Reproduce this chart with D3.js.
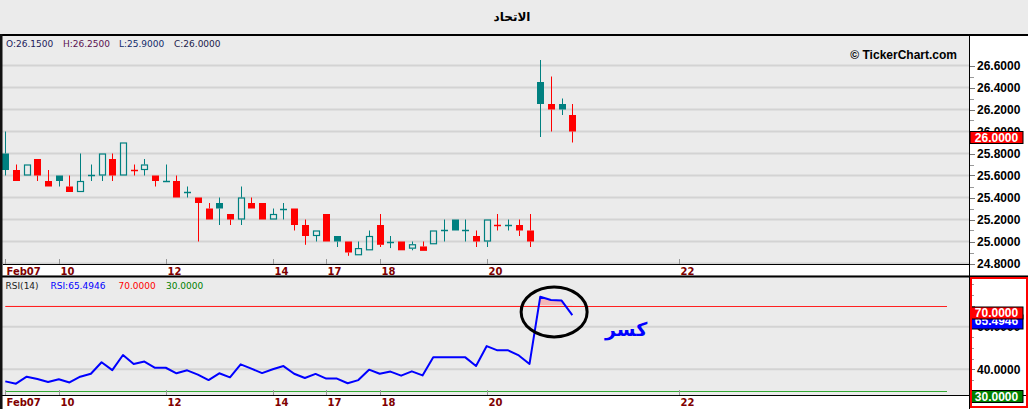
<!DOCTYPE html>
<html><head><meta charset="utf-8">
<script src="https://cdn.jsdelivr.net/npm/d3@7"></script>
<style>body{margin:0;background:#ebebeb;overflow:hidden}svg{display:block}</style>
</head><body><svg id="c" width="1028" height="409"></svg>
<script>
// ---------------- data ----------------
const title = "الاتحاد";
const opens  = [25.80,25.65,25.60,25.75,25.55,25.60,25.50,25.45,25.60,25.60,25.75,25.60,25.65,25.65,25.60,25.55,25.55,25.45,25.40,25.30,25.35,25.25,25.20,25.35,25.35,25.20,25.30,25.30,25.15,25.05,25.25,25.05,25.00,24.875,24.92,25.15,25.00,25.00,24.935,24.955,24.975,25.10,25.20,25.10,25.05,25.00,25.15,25.15,25.15,25.10,26.45,26.25,26.25,26.15];
const highs  = [26.00,25.70,25.70,25.75,25.65,25.60,25.60,25.80,25.70,25.80,25.80,25.90,25.70,25.75,25.60,25.70,25.60,25.50,25.40,25.35,25.40,25.25,25.50,25.40,25.35,25.30,25.35,25.30,25.20,25.10,25.25,25.05,25.00,25.00,25.10,25.25,25.05,25.00,25.00,25.00,25.10,25.20,25.20,25.20,25.10,25.20,25.25,25.20,25.20,25.25,26.65,26.50,26.30,26.25];
const lows   = [25.60,25.55,25.60,25.55,25.50,25.50,25.45,25.45,25.55,25.55,25.55,25.60,25.60,25.60,25.50,25.55,25.40,25.40,25.00,25.20,25.15,25.15,25.15,25.30,25.20,25.20,25.20,25.10,24.97,25.00,25.00,24.95,24.87,24.875,24.92,24.95,24.94,24.92,24.92,24.915,24.975,25.00,25.10,25.00,24.95,24.95,25.10,25.10,25.05,24.95,25.95,26.00,26.15,25.90];
const closes = [25.65,25.55,25.70,25.60,25.50,25.55,25.45,25.55,25.60,25.80,25.60,25.90,25.65,25.70,25.55,25.55,25.40,25.45,25.35,25.20,25.30,25.20,25.40,25.30,25.20,25.25,25.30,25.15,25.05,25.10,25.00,25.00,24.90,24.94,25.05,24.97,25.00,24.92,24.975,24.915,25.10,25.10,25.10,25.10,25.00,25.20,25.15,25.15,25.10,25.00,26.25,26.20,26.20,26.00];
const priorClose = 25.60;
const rsiValues = [34.3,33.2,36.5,35.4,34.0,35.3,33.8,36.5,37.9,43.3,39.6,46.7,42.5,43.6,40.7,40.7,38.1,39.5,37.5,34.9,38.1,36.2,42.3,40.3,38.2,40.0,41.5,37.9,35.9,37.8,35.6,35.6,33.4,34.9,39.8,37.9,38.9,37.0,39.0,37.1,45.6,45.6,45.6,45.6,41.5,50.9,48.9,48.9,46.5,42.5,74.1,72.6,72.3,65.4946];
const dateLabels = ["Feb07","10","12","14","17","18","20","22"];
const dateIndex  = [0,5,15,25,30,35,45,63];
const priceTicks = [24.8,25.0,25.2,25.4,25.6,25.8,26.0,26.2,26.4,26.6];
const priceMinor = [24.9,25.1,25.3,25.5,25.7,25.9,26.1,26.3,26.5];
const rsiTicks = [40,60];
const rsiMinor = [35,45,50,55,65,75,80];
const rsiOver = 70, rsiUnder = 30;
const rsiPeriod = 14;
const watermark = "© TickerChart.com";
const noteText = "كسر";

// ---------------- layout ----------------
const W = 1028, H = 409;
const plotL = 3, plotR = 969;
const mainT = 36, mainB = 264;
const rsiT = 277, rsiB = 395;
const TEAL = "#008080", RED = "#ff0000";
const svg = d3.select("#c");

const x = d3.scaleLinear().domain([0, 63]).range([5.3, 679.3]);
const y = d3.scaleLinear().domain([24.8, 26.6]).range([263.5, 65.5]);
const yR = d3.scaleLinear().domain([30, 70]).range([390.5, 305.5]);

svg.append("rect").attr("width", W).attr("height", H).attr("fill", "#ebebeb");

// title
svg.append("text").attr("x", 512).attr("y", 21).attr("text-anchor", "middle")
  .attr("font-family", "DejaVu Sans").attr("font-weight", "bold").attr("font-size", 12)
  .attr("fill", "#000").text(title);

function dateStrip(top, bottom) {
  svg.append("rect").attr("x", plotL).attr("y", top).attr("width", W - plotL).attr("height", bottom - top).attr("fill", "#fff");
  svg.selectAll(null).data(dateLabels).join("text")
    .attr("x", (d, k) => Math.round(x(dateIndex[k])) + 1.5).attr("y", top + 11)
    .attr("font-family", "DejaVu Sans").attr("font-weight", "bold").attr("font-size", 10).attr("fill", "#800000")
    .text(d => d);
}
function valueBox(yTop, fill, txt, h) {
  h = h || 12;
  svg.append("rect").attr("x", plotR + 1).attr("y", yTop).attr("width", 53).attr("height", h)
    .attr("fill", fill).attr("stroke", "#000").attr("stroke-width", 1);
  svg.append("text").attr("x", 996.5).attr("y", yTop + 10.3).attr("text-anchor", "middle")
    .attr("font-family", "Liberation Sans").attr("font-weight", "bold").attr("font-size", 12).attr("fill", "#fff").text(txt);
}

// ---------- main panel ----------
svg.append("rect").attr("x", plotR + 1).attr("y", mainT).attr("width", W - plotR - 1).attr("height", mainB - mainT).attr("fill", "#fff");
const gMain = svg.append("g");
gMain.selectAll("line.grid").data(priceTicks).join("line")
  .attr("x1", 0).attr("x2", plotR).attr("y1", d => y(d)).attr("y2", d => y(d))
  .attr("stroke", "#d3d3d3").attr("stroke-width", 2);
gMain.selectAll("line.dt").data(dateIndex).join("line")
  .attr("x1", d => Math.round(x(d)) + 0.5).attr("x2", d => Math.round(x(d)) + 0.5)
  .attr("y1", mainB - 5).attr("y2", mainB).attr("stroke", "#999");

const candles = opens.map((o, i) => ({
  i, o, h: highs[i], l: lows[i], c: closes[i],
  prev: i === 0 ? priorClose : closes[i - 1]
}));
const bw = 7;
const gC = gMain.append("g");
candles.forEach(d => {
  const col = d.c >= d.prev ? TEAL : RED;
  const xc = Math.round(x(d.i)) + 0.5;
  const g = gC.append("g");
  const top = y(Math.max(d.o, d.c)), bot = y(Math.min(d.o, d.c));
  if (d.o === d.c) {
    g.append("line").attr("x1", xc).attr("x2", xc).attr("y1", y(d.h)).attr("y2", y(d.l)).attr("stroke", col);
    g.append("line").attr("x1", xc - bw / 2).attr("x2", xc + bw / 2).attr("y1", Math.round(top) + 0.5).attr("y2", Math.round(top) + 0.5).attr("stroke", col).attr("stroke-width", 1.5);
  } else {
    g.append("line").attr("x1", xc).attr("x2", xc).attr("y1", y(d.h)).attr("y2", top).attr("stroke", col);
    g.append("line").attr("x1", xc).attr("x2", xc).attr("y1", bot).attr("y2", y(d.l)).attr("stroke", col);
    if (d.c < d.o) {
      g.append("rect").attr("x", xc - bw / 2).attr("y", top).attr("width", bw).attr("height", bot - top).attr("fill", col);
    } else {
      g.append("rect").attr("x", xc - bw / 2 + 0.5).attr("y", top + 0.5).attr("width", bw - 1).attr("height", Math.max(0, bot - top - 1))
        .attr("fill", "none").attr("stroke", col).attr("stroke-width", 1.2);
    }
  }
});

// watermark & OHLC legend
svg.append("text").attr("x", 957).attr("y", 59).attr("text-anchor", "end")
  .attr("font-family", "Liberation Sans").attr("font-weight", "bold").attr("font-size", 12).attr("fill", "#000").text(watermark);
const last = candles[candles.length - 1];
const legend = [
  {t: "O:" + last.o.toFixed(4), x: 6, c: "#20205a"},
  {t: "H:" + last.h.toFixed(4), x: 63, c: "#5a1050"},
  {t: "L:" + last.l.toFixed(4), x: 119, c: "#102a6a"},
  {t: "C:" + last.c.toFixed(4), x: 174, c: "#20204a"}
];
svg.selectAll("text.lg").data(legend).join("text")
  .attr("x", d => d.x).attr("y", 47).attr("font-family", "DejaVu Sans").attr("font-size", 9)
  .attr("fill", d => d.c).text(d => d.t);

// date strip 1
dateStrip(mainB, 275);
svg.append("line").attr("x1", plotL).attr("x2", plotR).attr("y1", mainB + 0.5).attr("y2", mainB + 0.5).attr("stroke", "#000");
svg.append("line").attr("x1", 0).attr("x2", W).attr("y1", 276.5).attr("y2", 276.5).attr("stroke", "#000").attr("stroke-width", 2);

// price axis
svg.selectAll("line.pt").data(priceTicks).join("line")
  .attr("x1", plotR + 0.5).attr("x2", plotR + 6).attr("y1", d => Math.round(y(d)) + 0.5).attr("y2", d => Math.round(y(d)) + 0.5).attr("stroke", "#777");
svg.selectAll("line.pm").data(priceMinor).join("line")
  .attr("x1", plotR + 0.5).attr("x2", plotR + 5).attr("y1", d => Math.round(y(d)) + 0.5).attr("y2", d => Math.round(y(d)) + 0.5).attr("stroke", "#999");
svg.selectAll("text.pl").data(priceTicks).join("text")
  .attr("x", 977).attr("y", d => y(d) + 4.3)
  .attr("font-family", "Liberation Sans").attr("font-weight", "bold").attr("font-size", 12).attr("fill", "#000")
  .text(d => d.toFixed(4));
valueBox(Math.round(y(last.c)) - 0.5, RED, last.c.toFixed(4));

// ---------- RSI panel ----------
svg.append("rect").attr("x", plotR + 1).attr("y", rsiT + 1).attr("width", W - plotR - 1).attr("height", rsiB - rsiT - 1).attr("fill", "#fff");
svg.selectAll("line.rg").data(rsiTicks).join("line")
  .attr("x1", 0).attr("x2", plotR).attr("y1", d => yR(d)).attr("y2", d => yR(d))
  .attr("stroke", "#d3d3d3").attr("stroke-width", 2);
svg.append("line").attr("x1", x(0)).attr("x2", 947).attr("y1", Math.round(yR(rsiOver)) + 0.5).attr("y2", Math.round(yR(rsiOver)) + 0.5).attr("stroke", "#ff2020").attr("stroke-width", 1.2);
svg.append("line").attr("x1", x(0)).attr("x2", 947).attr("y1", Math.round(yR(rsiUnder)) + 0.5).attr("y2", Math.round(yR(rsiUnder)) + 0.5).attr("stroke", "#33aa33").attr("stroke-width", 1.2);
svg.selectAll("line.rdt").data(dateIndex).join("line")
  .attr("x1", d => Math.round(x(d)) + 0.5).attr("x2", d => Math.round(x(d)) + 0.5)
  .attr("y1", rsiB - 5).attr("y2", rsiB).attr("stroke", "#999");

// overbought fill
svg.append("clipPath").attr("id", "ob").append("rect").attr("x", 0).attr("y", rsiT).attr("width", plotR).attr("height", yR(rsiOver) - rsiT);
svg.append("path").datum(rsiValues).attr("clip-path", "url(#ob)")
  .attr("d", d3.area().x((d, i) => x(i)).y0(yR(rsiOver)).y1(d => yR(d)))
  .attr("fill", "#f4b8b8");
svg.append("path").datum(rsiValues)
  .attr("d", d3.line().x((d, i) => x(i)).y(d => yR(d)))
  .attr("fill", "none").attr("stroke", "#0000ff").attr("stroke-width", 2).attr("stroke-linejoin", "round");

// annotation
svg.append("ellipse").attr("cx", x(51.3)).attr("cy", yR(67)).attr("rx", 33).attr("ry", 25)
  .attr("fill", "none").attr("stroke", "#000").attr("stroke-width", 3);
svg.append("text").attr("x", 605).attr("y", 336)
  .attr("font-family", "DejaVu Sans").attr("font-weight", "bold").attr("font-size", 19).attr("fill", "#0000ff").text(noteText);

// RSI header
const rsiHdr = [
  {t: "RSI(" + rsiPeriod + ")", x: 5.5, c: "#222"},
  {t: "RSI:" + rsiValues[rsiValues.length - 1].toFixed(4), x: 50.5, c: "#0000ff"},
  {t: rsiOver.toFixed(4), x: 118.5, c: "#ff0000"},
  {t: rsiUnder.toFixed(4), x: 166, c: "#008000"}
];
svg.selectAll("text.rh").data(rsiHdr).join("text")
  .attr("x", d => d.x).attr("y", 288.5).attr("font-family", "DejaVu Sans").attr("font-size", 9)
  .attr("fill", d => d.c).text(d => d.t);

// date strip 2
dateStrip(rsiB, H);
svg.append("line").attr("x1", 0).attr("x2", W).attr("y1", rsiB + 0.5).attr("y2", rsiB + 0.5).attr("stroke", "#000");

// RSI axis
svg.selectAll("line.rt").data(rsiTicks.concat([rsiOver, rsiUnder])).join("line")
  .attr("x1", plotR + 0.5).attr("x2", plotR + 6).attr("y1", d => Math.round(yR(d)) + 0.5).attr("y2", d => Math.round(yR(d)) + 0.5).attr("stroke", "#777");
svg.selectAll("line.rm").data(rsiMinor).join("line")
  .attr("x1", plotR + 0.5).attr("x2", plotR + 5).attr("y1", d => Math.round(yR(d)) + 0.5).attr("y2", d => Math.round(yR(d)) + 0.5).attr("stroke", "#999");
svg.selectAll("text.rl").data(rsiTicks).join("text")
  .attr("x", 977).attr("y", d => yR(d) + 4.3)
  .attr("font-family", "Liberation Sans").attr("font-weight", "bold").attr("font-size", 12).attr("fill", "#000")
  .text(d => d.toFixed(4));
const lastRsi = rsiValues[rsiValues.length - 1];
valueBox(Math.round(yR(lastRsi)), "#0000ff", lastRsi.toFixed(4), 14);
valueBox(Math.round(yR(rsiOver)) + 1, RED, rsiOver.toFixed(4));
valueBox(Math.round(yR(rsiUnder)) - 0.5, "#008000", rsiUnder.toFixed(4));

// axis line & borders
svg.append("line").attr("x1", plotR + 0.5).attr("x2", plotR + 0.5).attr("y1", mainT).attr("y2", H).attr("stroke", "#000");
svg.append("rect").attr("x", 971).attr("y", 278).attr("width", 56).attr("height", 129)
  .attr("fill", "none").attr("stroke", "#ff0000").attr("stroke-width", 2);
svg.append("rect").attr("x", 0).attr("y", 34).attr("width", W).attr("height", 2).attr("fill", "#000");
svg.append("rect").attr("x", 0).attr("y", 34).attr("width", 2.5).attr("height", H - 34).attr("fill", "#111");
</script></body></html>
